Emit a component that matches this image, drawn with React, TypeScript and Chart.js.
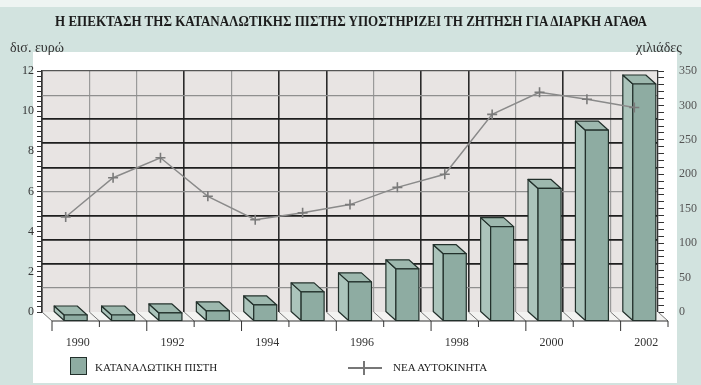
import React, { useEffect, useRef } from 'react';
import { Chart, registerables } from 'chart.js';

Chart.register(...registerables);

// ---- data ----
const years = ['1990', '1991', '1992', '1993', '1994', '1995', '1996', '1997', '1998', '1999', '2000', '2001', '2002'];
const consumerCredit = [0.3, 0.3, 0.4, 0.5, 0.8, 1.45, 1.95, 2.6, 3.35, 4.7, 6.6, 9.5, 11.8]; // δισ. ευρώ
const newCars = [138, 195, 224, 168, 134, 144, 156, 181, 200, 287, 319, 309, 297]; // χιλιάδες
const leftLabelValues = [0, 2, 4, 6, 8, 10, 12];
const rightLabelValues = [0, 50, 100, 150, 200, 250, 300, 350];

const titleText = 'Η ΕΠΕΚΤΑΣΗ ΤΗΣ ΚΑΤΑΝΑΛΩΤΙΚΗΣ ΠΙΣΤΗΣ ΥΠΟΣΤΗΡΙΖΕΙ ΤΗ ΖΗΤΗΣΗ ΓΙΑ ΔΙΑΡΚΗ ΑΓΑΘΑ';
const leftUnit = 'δισ. ευρώ';
const rightUnit = 'χιλιάδες';
const barLabel = 'ΚΑΤΑΝΑΛΩΤΙΚΗ ΠΙΣΤΗ';
const lineLabel = 'ΝΕΑ ΑΥΤΟΚΙΝΗΤΑ';

// ---- style ----
const TEAL = '#d2e3df';
const PLOT_BG = '#e8e4e3';
const BAR_FRONT = '#8eaca2';
const BAR_SIDE = '#abc4bb';
const BAR_TOP = '#9db8ae';
const BAR_EDGE = '#22302b';
const LINE_COLOR = '#8a8a8a';
const DX = 10;
const DY = 9;
const SERIF = "'Liberation Serif', 'DejaVu Serif', serif";

const horizHeavy = new Set([2, 3, 4, 6, 7, 8]);
const vertHeavy = new Set([0, 3, 5, 6, 8, 9, 11]);

const backgroundPlugin = {
  id: 'bgPanels',
  beforeDraw(chart: any) {
    const { ctx, chartArea } = chart;
    ctx.save();
    ctx.fillStyle = TEAL;
    ctx.fillRect(0, 0, chart.width, chart.height);
    ctx.fillStyle = '#eef4f2';
    ctx.fillRect(0, 0, chart.width, 7);
    ctx.fillStyle = '#ffffff';
    ctx.fillRect(33, 52, 644, 331);
    ctx.fillStyle = PLOT_BG;
    ctx.fillRect(chartArea.left, chartArea.top, chartArea.right - chartArea.left, chartArea.bottom - chartArea.top);
    ctx.restore();
  },
};

const floorPlugin = {
  id: 'floor3d',
  beforeDatasetsDraw(chart: any) {
    const { ctx, chartArea } = chart;
    const xs = chart.scales.x;
    const n = years.length;
    const cw = (chartArea.right - chartArea.left) / n;
    const { left, right, bottom } = chartArea;
    ctx.save();
    ctx.fillStyle = '#f3f3f1';
    ctx.beginPath();
    ctx.moveTo(left, bottom);
    ctx.lineTo(right, bottom);
    ctx.lineTo(right + DX, bottom + DY);
    ctx.lineTo(left + DX, bottom + DY);
    ctx.closePath();
    ctx.fill();
    for (let i = 0; i <= n; i++) {
      const bx = xs.getPixelForTick(Math.min(i, n - 1)) + (i === n ? cw / 2 : -cw / 2);
      ctx.strokeStyle = '#777';
      ctx.lineWidth = 1;
      ctx.beginPath();
      ctx.moveTo(bx, bottom);
      ctx.lineTo(bx + DX, bottom + DY);
      ctx.stroke();
      ctx.strokeStyle = '#333';
      ctx.beginPath();
      ctx.moveTo(bx + DX, bottom + DY);
      ctx.lineTo(bx + DX, bottom + DY + (i % 2 === 0 ? 10 : 6));
      ctx.stroke();
    }
    ctx.strokeStyle = '#333';
    ctx.lineWidth = 1.2;
    ctx.beginPath();
    ctx.moveTo(left + DX, bottom + DY);
    ctx.lineTo(right + DX, bottom + DY);
    ctx.stroke();
    ctx.restore();
  },
};

const bar3dPlugin = {
  id: 'bar3d',
  afterDatasetDraw(chart: any, args: any) {
    if (args.index !== 0) return;
    const { ctx } = chart;
    const meta = chart.getDatasetMeta(0);
    ctx.save();
    ctx.lineWidth = 1.2;
    ctx.strokeStyle = BAR_EDGE;
    ctx.lineJoin = 'round';
    meta.data.forEach((el: any) => {
      const { x, y, base, width } = el.getProps(['x', 'y', 'base', 'width'], true);
      const l = x - width / 2;
      const r = x + width / 2;
      const t = Math.min(y, base);
      const b = Math.max(y, base);
      // side face (left)
      ctx.fillStyle = BAR_SIDE;
      ctx.beginPath();
      ctx.moveTo(l, t);
      ctx.lineTo(l + DX, t + DY);
      ctx.lineTo(l + DX, b + DY);
      ctx.lineTo(l, b);
      ctx.closePath();
      ctx.fill();
      ctx.stroke();
      // top face
      ctx.fillStyle = BAR_TOP;
      ctx.beginPath();
      ctx.moveTo(l, t);
      ctx.lineTo(r, t);
      ctx.lineTo(r + DX, t + DY);
      ctx.lineTo(l + DX, t + DY);
      ctx.closePath();
      ctx.fill();
      ctx.stroke();
      // front face
      ctx.fillStyle = BAR_FRONT;
      ctx.fillRect(l + DX, t + DY, width, b - t);
      ctx.strokeRect(l + DX, t + DY, width, b - t);
    });
    ctx.restore();
  },
};

export default function App() {
  const canvasRef = useRef<HTMLCanvasElement | null>(null);
  const titleRef = useRef<HTMLSpanElement | null>(null);

  useEffect(() => {
    if (titleRef.current) {
      const w = titleRef.current.getBoundingClientRect().width;
      if (w > 0) titleRef.current.style.transform = `scaleX(${592 / w})`;
    }
    const canvas = canvasRef.current;
    if (!canvas) return;
    const chart = new Chart(canvas, {
      type: 'bar',
      data: {
        labels: years,
        datasets: [
          {
            type: 'bar',
            label: barLabel,
            data: consumerCredit,
            yAxisID: 'y',
            backgroundColor: 'rgba(0,0,0,0)',
            borderWidth: 0,
            barThickness: 23,
            order: 2,
          },
          {
            type: 'line',
            label: lineLabel,
            data: newCars,
            yAxisID: 'yR',
            borderColor: LINE_COLOR,
            borderWidth: 1.5,
            pointStyle: 'cross',
            pointRadius: 5,
            pointBorderWidth: 1.6,
            pointBorderColor: '#7a7a7a',
            tension: 0,
            order: 1,
          },
        ] as any,
      },
      options: {
        responsive: false,
        maintainAspectRatio: false,
        animation: false,
        layout: { padding: { top: 71, left: 0, right: 0, bottom: 0 } },
        plugins: {
          legend: { display: false },
          title: { display: false },
          tooltip: { enabled: false },
        },
        scales: {
          x: {
            grid: {
              offset: true,
              drawTicks: false,
              color: (c: any) => (vertHeavy.has(c.index) ? '#2a2a2a' : '#9a9a9a'),
              lineWidth: (c: any) => (vertHeavy.has(c.index) ? 1.6 : 1.2),
            },
            border: { display: true, color: '#333', width: 1 },
            ticks: {
              autoSkip: false,
              maxRotation: 0,
              labelOffset: 12,
              padding: 24,
              color: '#333',
              font: { family: SERIF, size: 12 },
              callback: (_v: any, i: number) => (i % 2 === 0 ? years[i] : ''),
            },
            afterFit: (s: any) => {
              s.height = 73;
            },
          },
          y: {
            position: 'left',
            min: 0,
            max: 12,
            grid: { drawOnChartArea: false, tickLength: 5, color: '#333', tickColor: '#333' },
            border: { display: true, color: '#333', width: 1.2 },
            ticks: {
              stepSize: 0.25,
              autoSkip: false,
              padding: 3,
              color: '#333',
              font: { family: SERIF, size: 12 },
              callback: (v: any) => (leftLabelValues.includes(Number(v)) ? String(v) : ''),
            },
            afterFit: (s: any) => {
              s.width = 42;
            },
          },
          yGrid: {
            position: 'left',
            min: 0,
            max: 10,
            display: true,
            ticks: { display: false, stepSize: 1 },
            border: { display: false },
            grid: {
              drawTicks: false,
              color: (c: any) => {
                const v = c.tick ? c.tick.value : 0;
                if (v === 0) return 'rgba(0,0,0,0)';
                if (v === 10) return '#555';
                return horizHeavy.has(v) ? '#1e1e1e' : '#8f8f8f';
              },
              lineWidth: (c: any) => {
                const v = c.tick ? c.tick.value : 0;
                return horizHeavy.has(v) ? 1.8 : 1.2;
              },
            },
            afterFit: (s: any) => {
              s.width = 0;
            },
          },
          yR: {
            position: 'right',
            min: 0,
            max: 350,
            grid: { drawOnChartArea: false, tickLength: 6, color: '#333', tickColor: '#333' },
            border: { display: true, color: '#333', width: 1.2 },
            ticks: {
              stepSize: 10,
              autoSkip: false,
              padding: 15,
              color: '#555',
              font: { family: SERIF, size: 12 },
              callback: (v: any) => (rightLabelValues.includes(Number(v)) ? String(v) : ''),
            },
            afterFit: (s: any) => {
              s.width = 43;
            },
          },
        },
      } as any,
      plugins: [backgroundPlugin, floorPlugin, bar3dPlugin],
    });
    return () => chart.destroy();
  }, []);

  const textBase: React.CSSProperties = {
    position: 'absolute',
    fontFamily: SERIF,
    color: '#222',
    whiteSpace: 'nowrap',
    lineHeight: 1,
  };

  return (
    <div style={{ position: 'fixed', left: 0, top: 0, width: 701, height: 385, background: TEAL, overflow: 'hidden' }}>
      <canvas ref={canvasRef} width={701} height={385} style={{ position: 'absolute', left: 0, top: 0, width: 701, height: 385 }} />
      <div style={{ ...textBase, left: 0, top: 13, width: 701, textAlign: 'center' }}>
        <span
          ref={titleRef}
          style={{ display: 'inline-block', fontWeight: 'bold', fontSize: 14, transformOrigin: 'center', color: '#1c1c1c' }}
        >
          {titleText}
        </span>
      </div>
      <div style={{ ...textBase, left: 10, top: 41, fontSize: 14, color: '#333' }}>{leftUnit}</div>
      <div style={{ ...textBase, left: 636, top: 41, fontSize: 14, color: '#333' }}>{rightUnit}</div>
      <div
        style={{
          position: 'absolute',
          left: 70,
          top: 357,
          width: 15,
          height: 16,
          background: BAR_FRONT,
          border: `1.5px solid ${BAR_EDGE}`,
        }}
      />
      <div style={{ ...textBase, left: 95, top: 362, fontSize: 11 }}>{barLabel}</div>
      <div style={{ position: 'absolute', left: 348, top: 367, width: 34, height: 1.5, background: '#777' }} />
      <div style={{ position: 'absolute', left: 363, top: 361, width: 1.5, height: 14, background: '#777' }} />
      <div style={{ ...textBase, left: 393, top: 362, fontSize: 11 }}>{lineLabel}</div>
    </div>
  );
}
